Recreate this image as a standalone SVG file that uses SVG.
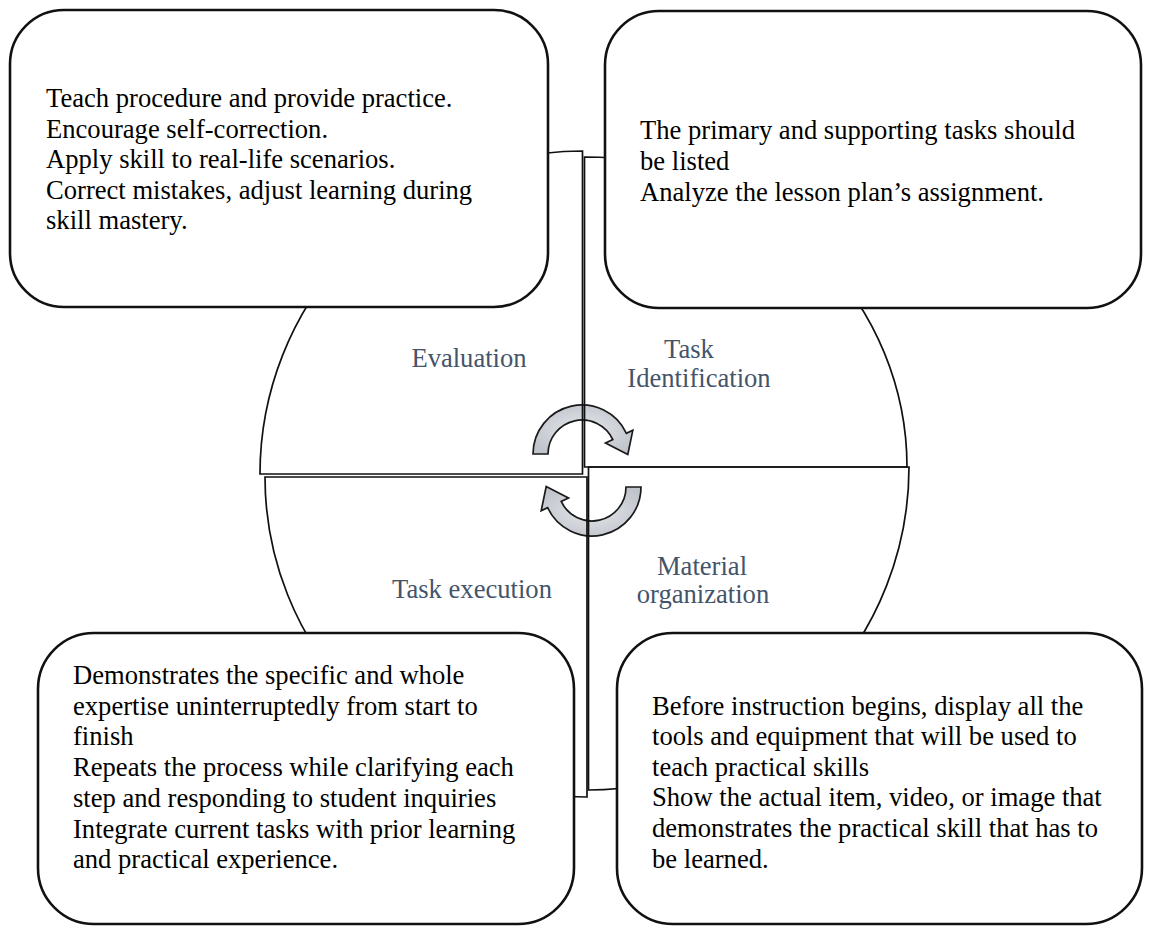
<svg xmlns="http://www.w3.org/2000/svg" width="1149" height="931" viewBox="0 0 1149 931">
<defs>
<style>
.sector{fill:none;stroke:#111;stroke-width:1.7}
.box{fill:#fff;stroke:#111;stroke-width:2.6}
.txt{font-family:"Liberation Serif","Times New Roman",serif;font-size:26.6px;fill:#000}
.lbl{font-family:"Liberation Serif","Times New Roman",serif;font-size:26.6px;fill:#44546A;text-anchor:middle}
.arrow{fill:url(#ag);stroke:#1a1a1a;stroke-width:1.7;stroke-linejoin:miter}
</style>
<radialGradient id="ag" cx="0.5" cy="0.5" r="0.6">
<stop offset="0" stop-color="#E4E6EA"/>
<stop offset="1" stop-color="#BFC3CA"/>
</radialGradient>
<path id="cyc" d="M533 454 A49 49 0 0 1 626.4 433.3 L632.8 430.3 L627.8 454.5 L605.5 443 L612.8 439.6 A34 34 0 0 0 548 454 Z"/>
</defs>
<rect width="1149" height="931" fill="#fff"/>
<g id="connectors">
<use href="#cyc" class="arrow"/>
<use href="#cyc" class="arrow" transform="rotate(180 587 470.5)"/>
</g>
<g id="evaluation">
<path class="sector" d="M582.5 474 L582.5 151 A322.5 323 0 0 0 260 474 Z"/>
<text class="lbl" x="469" y="367">Evaluation</text>
</g>
<g id="task-identification">
<path class="sector" d="M584.5 467 L584.5 157 A322.5 310 0 0 1 907 467 Z"/>
<text class="lbl" x="689" y="358">Task</text>
<text class="lbl" x="699" y="387">Identification</text>
</g>
<g id="task-execution">
<path class="sector" d="M587 477 L265 477 A322 320 0 0 0 587 797 Z"/>
<text class="lbl" x="472" y="598">Task execution</text>
</g>
<g id="material-organization">
<path class="sector" d="M588.5 467 L909 467 A320.5 323 0 0 1 588.5 790 Z"/>
<text class="lbl" x="702" y="575">Material</text>
<text class="lbl" x="703" y="603">organization</text>
</g>
<g id="box-evaluation">
<rect class="box" x="10" y="10" width="538" height="297" rx="54"/>
<text class="txt" x="46" y="107">Teach procedure and provide practice.</text>
<text class="txt" x="46" y="137.5">Encourage self-correction.</text>
<text class="txt" x="46" y="168">Apply skill to real-life scenarios.</text>
<text class="txt" x="46" y="198.5">Correct mistakes, adjust learning during</text>
<text class="txt" x="46" y="229">skill mastery.</text>
</g>
<g id="box-task-identification">
<rect class="box" x="605" y="11" width="536" height="297" rx="54"/>
<text class="txt" x="640" y="139">The primary and supporting tasks should</text>
<text class="txt" x="640" y="170">be listed</text>
<text class="txt" x="640" y="201">Analyze the lesson plan’s assignment.</text>
</g>
<g id="box-task-execution">
<rect class="box" x="38" y="633" width="536" height="291" rx="56"/>
<text class="txt" x="73" y="684">Demonstrates the specific and whole</text>
<text class="txt" x="73" y="714.7">expertise uninterruptedly from start to</text>
<text class="txt" x="73" y="745.4">finish</text>
<text class="txt" x="73" y="776.1">Repeats the process while clarifying each</text>
<text class="txt" x="73" y="806.8">step and responding to student inquiries</text>
<text class="txt" x="73" y="837.5">Integrate current tasks with prior learning</text>
<text class="txt" x="73" y="868.2">and practical experience.</text>
</g>
<g id="box-material-organization">
<rect class="box" x="617" y="633" width="525" height="291" rx="56"/>
<text class="txt" x="652" y="714.5">Before instruction begins, display all the</text>
<text class="txt" x="652" y="745.1">tools and equipment that will be used to</text>
<text class="txt" x="652" y="775.7">teach practical skills</text>
<text class="txt" x="652" y="806.3">Show the actual item, video, or image that</text>
<text class="txt" x="652" y="836.9">demonstrates the practical skill that has to</text>
<text class="txt" x="652" y="867.5">be learned.</text>
</g>
</svg>
